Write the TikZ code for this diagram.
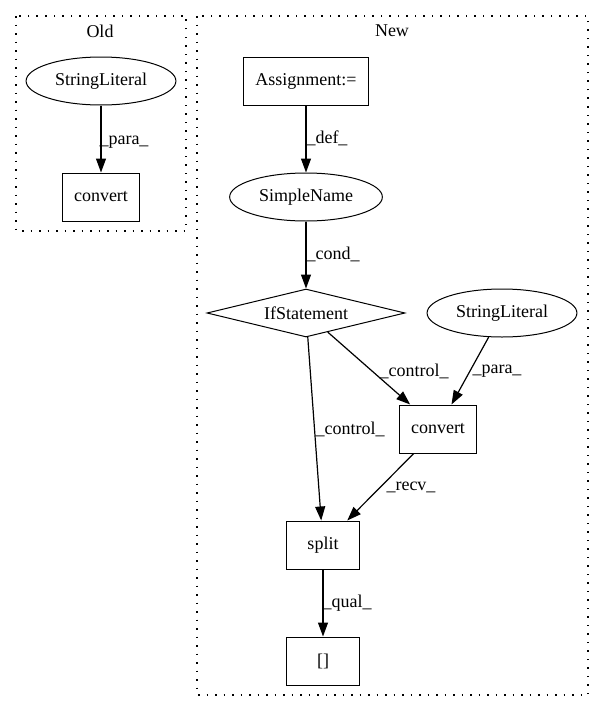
\documentclass[tikz,border=0pt]{standalone}
\usepackage{fontspec}
\setmainfont{Liberation Serif}
\usetikzlibrary{shapes.geometric,arrows.meta}
\tikzset{
  box/.style={draw, rectangle, line width=1pt, minimum width=73pt, minimum height=48pt, inner xsep=12pt, inner ysep=0pt},
  oval/.style={draw, ellipse, line width=1pt, minimum height=48pt, inner xsep=7pt, inner ysep=0pt},
  cond/.style={draw, diamond, aspect=4, line width=1pt, minimum width=198pt, minimum height=48pt, inner sep=0pt},
  edge/.style={line width=1.2pt, -{Triangle[length=14pt,width=10pt]}},
  lbl/.style={inner sep=0pt},
  cluster/.style={line width=1.2pt, dash pattern=on 1.5pt off 7pt}
}
\begin{document}
\begin{tikzpicture}[x=1pt, y=-1pt, font=\fontsize{18}{22}\selectfont]
    \useasboundingbox (0,0) rectangle (604,712);
    \draw[cluster] (16,16) rectangle (186,231);
    \draw[cluster] (197,16) rectangle (588,695);
    \node (old) at (100,31) {Old};
    \node (new) at (392,31) {New};
    \node[oval] (lit1) at (101,81) {StringLiteral};
    \node[box] (conv1) at (101,197) {convert};
    \node[box] (assign) at (306,81) {Assignment:=};
    \node[oval] (name) at (306,197) {SimpleName};
    \node[cond] (ifst) at (306,313) {IfStatement};
    \node[oval] (lit2) at (502,313) {StringLiteral};
    \node[box] (conv2) at (438,429) {convert};
    \node[box] (split) at (323,545) {split};
    \node[box] (idx) at (323,661) {[]};
    \node[lbl] (l1) at (124,142) {\_para\_};
    \node[lbl] (l2) at (327,138) {\_def\_};
    \node[lbl] (l3) at (333,254) {\_cond\_};
    \node[lbl] (l4) at (350,429) {\_control\_};
    \node[lbl] (l5) at (414,371) {\_control\_};
    \node[lbl] (l6) at (497,371) {\_para\_};
    \node[lbl] (l7) at (411,487) {\_recv\_};
    \node[lbl] (l8) at (347,603) {\_qual\_};
    \draw[edge] (lit1) -- (conv1);
    \draw[edge] (assign) -- (name);
    \draw[edge] (name) -- (ifst);
    \draw[edge] (ifst) -- (split);
    \draw[edge] (ifst) -- (conv2);
    \draw[edge] (lit2) -- (conv2);
    \draw[edge] (conv2) -- (split);
    \draw[edge] (split) -- (idx);
\end{tikzpicture}
\end{document}
